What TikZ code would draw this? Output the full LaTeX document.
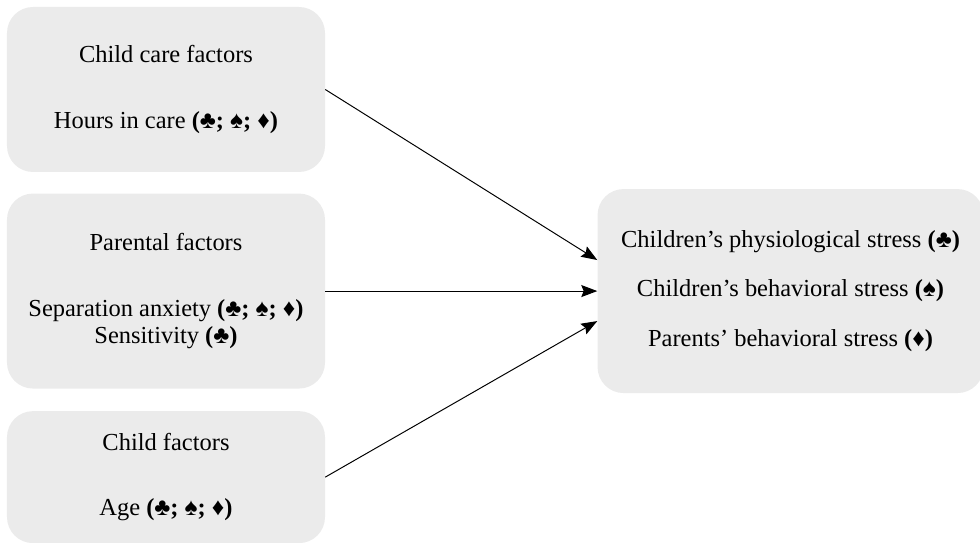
\documentclass[tikz,border=0pt]{standalone}
\usepackage{fontspec}
\setmainfont{Liberation Serif}
\usepackage{tikz}
\usetikzlibrary{positioning, arrows.meta}
\definecolor{boxgray}{HTML}{EBEBEB}

\begin{document}
\begin{tikzpicture}[
    factor/.style={rectangle, rounded corners=0.65cm, fill=boxgray, align=center,
                   minimum width=7.95cm, inner sep=0pt,
                   font=\fontsize{17.4}{19.5}\selectfont},
    link/.style={-{Stealth[length=0.4cm, width=0.3cm, inset=0.06cm]}, line width=0.7pt}]
\useasboundingbox (0,0) rectangle (24.5,-13.575);
%
\node[factor, minimum height=4.125cm] (care) at (4.15,-2.2375)
    {Child care factors\\[0.95cm]Hours in care \textbf{(♣; ♠; ♦)}};
\node[factor, minimum height=4.875cm, below=0.525cm of care] (parent)
    {Parental factors\\[0.95cm]Separation anxiety \textbf{(♣; ♠; ♦)}\\Sensitivity \textbf{(♣)}};
\node[factor, minimum height=3.3cm, below=0.55cm of parent] (child)
    {Child factors\\[0.95cm]Age \textbf{(♣; ♠; ♦)}};
%
\node[factor, minimum width=9.65cm, minimum height=5.1cm, right=6.8cm of parent] (stress)
    {Children’s physiological stress \textbf{(♣)}\\[0.55cm]
     Children’s behavioral stress \textbf{(♠)}\\[0.55cm]
     Parents’ behavioral stress \textbf{(♦)}};
%
\coordinate (in1) at ([yshift=0.775cm]stress.west);
\coordinate (in3) at ([yshift=-0.75cm]stress.west);
\draw[link] (care.east) -- (in1);
\draw[link] (parent.east) -- (stress.west);
\draw[link] (child.east) -- (in3);
%
\end{tikzpicture}
\end{document}
